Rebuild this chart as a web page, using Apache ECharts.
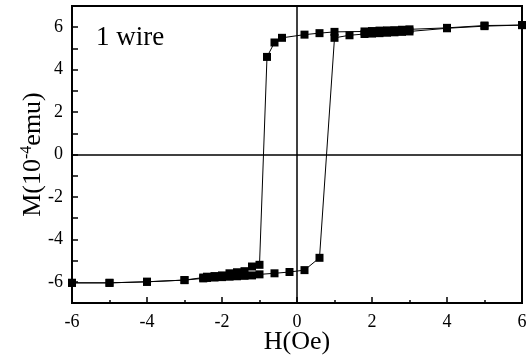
<!DOCTYPE html>
<html>
<head>
<meta charset="utf-8">
<script src="https://cdn.jsdelivr.net/npm/echarts@6/dist/echarts.min.js"></script>
<style>
  html, body { margin: 0; padding: 0; background: #fff; }
  #chart { width: 531px; height: 364px; }
</style>
</head>
<body>
<div id="chart"></div>
<script>
// descending field branch (+6 -> -6)
const hDown = [6, 5, 4, 3, 2.8, 2.6, 2.4, 2.2, 2.0, 1.8, 1.0, 0.6, 0.2, -0.4, -0.6, -0.8,
  -1.0, -1.2, -1.4, -1.6, -1.8, -2.0, -2.2, -2.4, -2.5, -3, -4, -5, -6];
const mDown = [6.1, 6.08, 5.97, 5.9, 5.88, 5.86, 5.85, 5.84, 5.82, 5.8, 5.78, 5.72, 5.65, 5.5, 5.28, 4.6,
  -5.2, -5.28, -5.5, -5.55, -5.6, -5.7, -5.73, -5.76, -5.8, -5.92, -6.0, -6.05, -6.05];
// ascending field branch (-6 -> +6)
const hUp = [-6, -5, -4, -3, -2.5, -2.4, -2.2, -2.0, -1.8, -1.6, -1.4, -1.2, -1.0, -0.6, -0.2, 0.2, 0.6,
  1.0, 1.4, 1.8, 2.0, 2.2, 2.4, 2.6, 2.8, 3, 4, 5, 6];
const mUp = [-6.05, -6.05, -6.0, -5.92, -5.84, -5.82, -5.8, -5.78, -5.76, -5.74, -5.72, -5.7, -5.65, -5.6, -5.54, -5.45, -4.87,
  5.5, 5.62, 5.68, 5.7, 5.72, 5.74, 5.76, 5.78, 5.8, 5.95, 6.05, 6.1];
const xTicks = [-6, -4, -2, 0, 2, 4, 6];
const yTicks = [-6, -4, -2, 0, 2, 4, 6];

const font = '"Liberation Serif", "DejaVu Serif", serif';
const chart = echarts.init(document.getElementById('chart'));

const axisCommon = {
  axisLine: { show: true, onZero: false, lineStyle: { color: '#000', width: 2 } },
  axisTick: { show: true, inside: true, length: 6, lineStyle: { color: '#000', width: 1.5 } },
  minorTick: { show: true, splitNumber: 2, length: 3, lineStyle: { color: '#000', width: 1.5 } },
  splitLine: { show: false },
  nameMoveOverlap: false,
  axisLabel: { color: '#000', fontFamily: font, fontSize: 18 },
  nameTextStyle: { color: '#000', fontFamily: font, fontSize: 26 }
};

chart.setOption({
  animation: false,
  backgroundColor: '#fff',
  grid: {
    left: 72, right: 9, top: 6, bottom: 61,
    containLabel: false, outerBoundsMode: 'none',
    show: true, borderColor: '#000', borderWidth: 2, backgroundColor: 'transparent'
  },
  title: {
    text: '1 wire',
    left: 91, top: 19,
    textStyle: { color: '#000', fontFamily: font, fontSize: 27, fontWeight: 'normal' }
  },
  xAxis: Object.assign({}, axisCommon, {
    type: 'value', min: -6, max: 6, interval: 2,
    name: 'H(Oe)', nameLocation: 'middle', nameGap: 26,
    axisLabel: Object.assign({}, axisCommon.axisLabel, {
      margin: 10,
      formatter: v => xTicks.includes(v) ? String(v) : ''
    })
  }),
  yAxis: Object.assign({}, axisCommon, {
    type: 'value', min: -7, max: 7, interval: 1,
    name: 'M(10{sup|-4}emu)', nameLocation: 'middle', nameGap: 25,
    minorTick: { show: false },
    nameTextStyle: Object.assign({}, axisCommon.nameTextStyle, {
      rich: {
        sup: { fontFamily: font, fontSize: 16, color: '#000', verticalAlign: 'top', padding: [0, 0, 12, 0] }
      }
    }),
    axisLabel: Object.assign({}, axisCommon.axisLabel, {
      margin: 9,
      formatter: v => yTicks.includes(v) ? String(v) : ''
    })
  }),
  series: [
    {
      type: 'line',
      data: hDown.map((h, i) => [h, mDown[i]]),
      symbol: 'rect', symbolSize: 8,
      itemStyle: { color: '#000' },
      lineStyle: { color: '#000', width: 1 },
      markLine: {
        silent: true, symbol: 'none', label: { show: false },
        lineStyle: { color: '#000', width: 1.5, type: 'solid' },
        data: [{ xAxis: 0 }, { yAxis: 0 }]
      }
    },
    {
      type: 'line',
      data: hUp.map((h, i) => [h, mUp[i]]),
      symbol: 'rect', symbolSize: 8,
      itemStyle: { color: '#000' },
      lineStyle: { color: '#000', width: 1 }
    }
  ]
});
</script>
</body>
</html>
